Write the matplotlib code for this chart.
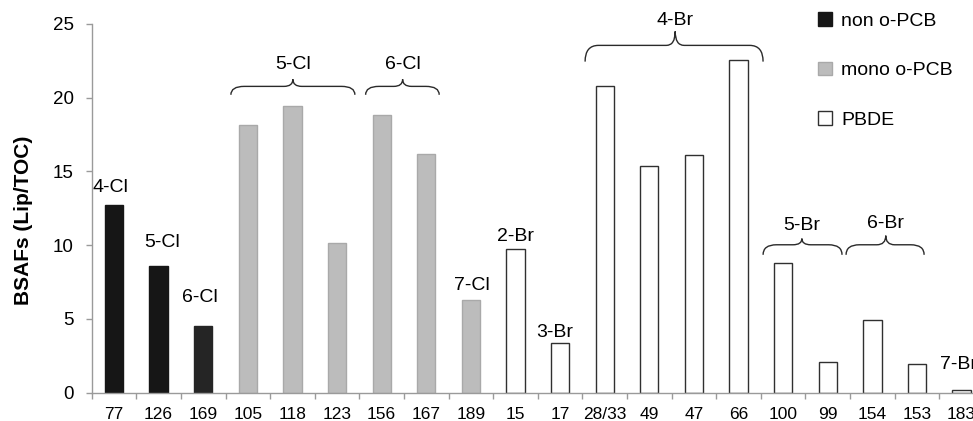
import matplotlib
matplotlib.use("Agg")
import matplotlib.pyplot as plt
from matplotlib.patches import Patch
from matplotlib.path import Path
from matplotlib.patches import PathPatch

plt.rcParams['font.family'] = ['Liberation Sans', 'DejaVu Sans']

categories = ["77", "126", "169", "105", "118", "123", "156", "167", "189",
              "15", "17", "28/33", "49", "47", "66", "100", "99", "154", "153", "183"]
values = [12.75, 8.6, 4.55, 18.15, 19.45, 10.15, 18.8, 16.2, 6.3,
          9.75, 3.35, 20.8, 15.4, 16.15, 22.55, 8.8, 2.05, 4.95, 1.95, 0.15]
groups = ["non o-PCB"] * 3 + ["mono o-PCB"] * 6 + ["PBDE"] * 11

# individual labels: (text, x, y)
bar_labels = [("4-Cl", -0.07, 13.9), ("5-Cl", 1.08, 10.2), ("6-Cl", 1.93, 6.45),
              ("7-Cl", 8.02, 7.3), ("2-Br", 8.99, 10.6), ("3-Br", 9.89, 4.05)]
# braces: (text, x_left, x_right, x_center, y_tip, y_line, y_cusp, y_text)
braces = [("5-Cl", 2.62, 5.40, 4.01, 20.2, 20.77, 21.25, 22.25),
          ("6-Cl", 5.64, 7.29, 6.47, 20.2, 20.77, 21.25, 22.25),
          ("4-Br", 10.56, 14.55, 12.58, 22.45, 23.55, 24.5, 25.25),
          ("5-Br", 14.55, 16.32, 15.42, 9.35, 10.03, 10.45, 11.32),
          ("6-Br", 16.41, 18.16, 17.3, 9.35, 10.03, 10.65, 11.46)]

styles = {
    "non o-PCB": dict(facecolor="#161616", edgecolor="#161616"),
    "mono o-PCB": dict(facecolor="#bcbcbc", edgecolor="#a9a9a9"),
    "PBDE": dict(facecolor="white", edgecolor="#303030"),
}

W, H = 973, 421
fig = plt.figure(figsize=(W / 100, H / 100), dpi=100)
left = 91.7 / W
bottom = (H - 392.7) / H
top = (H - 24) / H
width = 20 * 44.61 / W
ax = fig.add_axes([left, bottom, width, top - bottom])

x = list(range(len(categories)))
for i, (v, g) in enumerate(zip(values, groups)):
    st = dict(styles[g])
    if i == 2:
        st = dict(facecolor='#252525', edgecolor='#252525')
    ax.bar(i, v, width=0.41, linewidth=1.0, **st)

ax.set_xlim(-0.5, len(categories) - 0.5)
ax.set_ylim(0, 25)
ax.set_yticks([0, 5, 10, 15, 20, 25])
ax.set_xticks(x)
ax.set_xticklabels(categories)
ax.set_xticks([i + 0.5 for i in range(-1, len(categories))], minor=True)
ax.tick_params(axis='x', which='major', length=0, pad=10.5, labelsize=12.5)
ax.tick_params(axis='x', which='minor', length=4.5, color='#9a9a9a', width=1)
ax.tick_params(axis='y', length=4.5, color='#9a9a9a', width=1, pad=8.5, labelsize=13.5)
for s in ['top', 'right']:
    ax.spines[s].set_visible(False)
for s in ['left', 'bottom']:
    ax.spines[s].set_color('#9a9a9a')
    ax.spines[s].set_linewidth(1)

ax.set_ylabel("BSAFs (Lip/TOC)", fontsize=15, fontweight='bold')
ax.yaxis.set_label_coords(-0.066, 0.468)

for t, lx, ly in bar_labels:
    ax.text(lx, ly, t, ha='center', va='center', fontsize=14)

def brace(xl, xr, xc, yt, yl, yc):
    rx = 0.3
    rc = 0.2
    verts = [(xl, yt), (xl, yl), (xl + rx, yl), (xc - rc, yl), (xc, yl), (xc, yc),
             (xc, yl), (xc + rc, yl), (xr - rx, yl), (xr, yl), (xr, yt)]
    codes = [Path.MOVETO, Path.CURVE3, Path.CURVE3, Path.LINETO, Path.CURVE3, Path.CURVE3,
             Path.CURVE3, Path.CURVE3, Path.LINETO, Path.CURVE3, Path.CURVE3]
    return PathPatch(Path(verts, codes), facecolor='none', edgecolor='#2a2a2a', lw=1.0,
                     clip_on=False)

for t, xl, xr, xc, yt, yl, yc, ytx in braces:
    ax.add_patch(brace(xl, xr, xc, yt, yl, yc))
    ax.text(xc, ytx, t, ha='center', va='center', fontsize=14)

ax.text(18.52, 1.88, "7-Br", ha='left', va='center', fontsize=14)

handles = [Patch(**styles[g], linewidth=1.0) for g in ["non o-PCB", "mono o-PCB", "PBDE"]]
fig.legend(handles, ["non o-PCB", "mono o-PCB", "PBDE"], loc='upper left',
           bbox_to_anchor=(818 / W, 1 - 12 / H), bbox_transform=fig.transFigure,
           frameon=False, fontsize=14, handlelength=0.7, handleheight=0.7,
           handletextpad=0.5, labelspacing=1.65, borderpad=0, borderaxespad=0)

fig.savefig("out.png", dpi=100)
